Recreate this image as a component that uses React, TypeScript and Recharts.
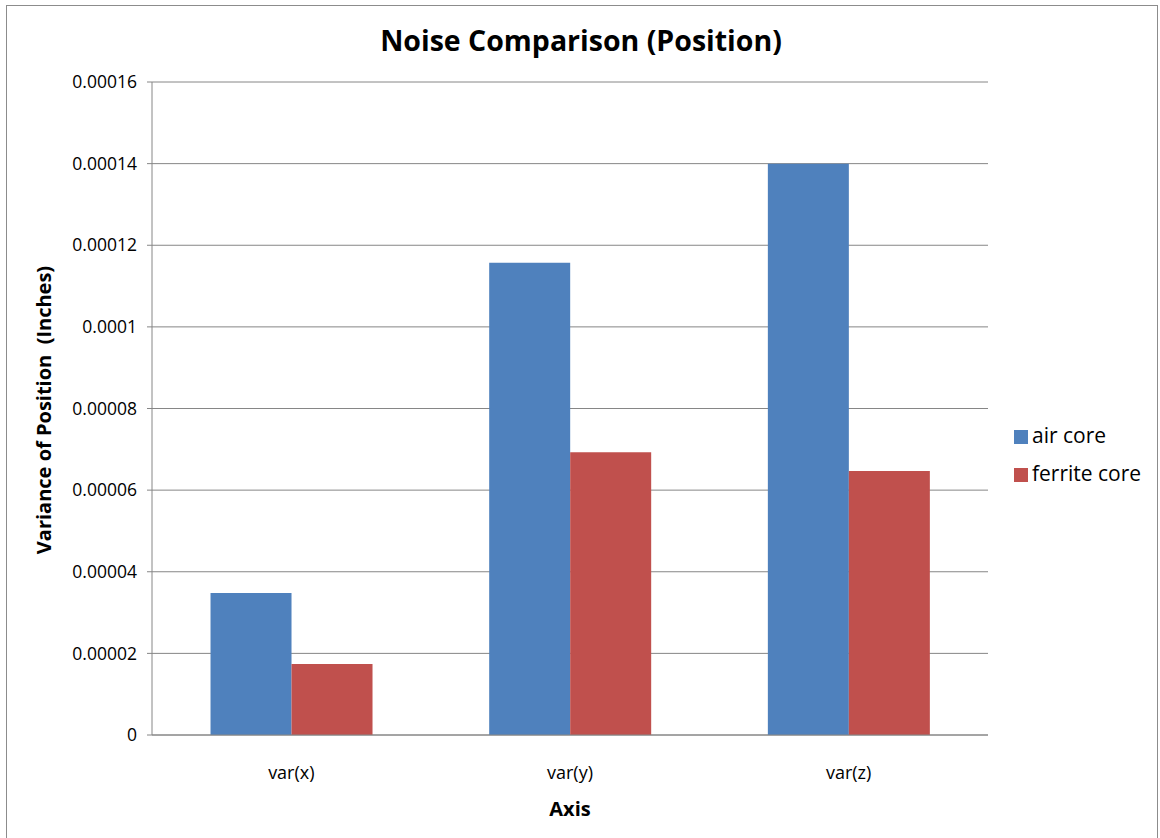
import React from 'react';
import { BarChart, Bar, XAxis, YAxis, CartesianGrid, Legend } from 'recharts';

const categories = ['var(x)', 'var(y)', 'var(z)'];
const airCore = [0.0000348, 0.0001157, 0.00014];
const ferriteCore = [0.0000174, 0.0000693, 0.0000647];
const yTicks = [0, 0.00002, 0.00004, 0.00006, 0.00008, 0.0001, 0.00012, 0.00014, 0.00016];
const yTickLabels = ['0', '0.00002', '0.00004', '0.00006', '0.00008', '0.0001', '0.00012', '0.00014', '0.00016'];

const data = categories.map((name, i) => ({ name, air: airCore[i], ferrite: ferriteCore[i] }));

const FONT = '"Open Sans", sans-serif';
const GRID = '#868686';

const App: React.FC = () => {
  return (
    <div style={{ position: 'absolute', left: 0, top: 0, width: 1160, height: 838, overflow: 'hidden', background: '#fff', fontFamily: FONT }}>
      <div style={{ position: 'absolute', left: 6, top: 5, width: 1150, height: 860, border: '1px solid #8c8c8c' }} />

      <div style={{ position: 'absolute', left: 581, top: 40, transform: 'translate(-50%, -50%)', whiteSpace: 'nowrap', fontSize: 28.5, fontWeight: 700, color: '#000' }}>
        Noise Comparison (Position)
      </div>

      <BarChart
        width={1160}
        height={838}
        data={data}
        margin={{ top: 82, right: 27, bottom: 73, left: 0 }}
        barCategoryGap="21%"
        barGap={0}
        style={{ position: 'absolute', left: 0, top: 0 }}
      >
        <CartesianGrid vertical={false} stroke={GRID} strokeWidth={1} />
        <XAxis
          dataKey="name"
          height={30}
          tickLine={false}
          axisLine={{ stroke: GRID }}
          tickMargin={25}
          tick={{ fill: '#000', fontSize: 18, fontFamily: FONT }}
        />
        <YAxis
          width={152}
          domain={[0, 0.00016]}
          ticks={yTicks}
          interval={0}
          tickFormatter={(v: number) => yTickLabels[yTicks.indexOf(v)] ?? String(v)}
          axisLine={{ stroke: GRID }}
          tickLine={{ stroke: GRID }}
          tickSize={5}
          tickMargin={10}
          tick={{ fill: '#000', fontSize: 17.5, fontFamily: FONT }}
        />
        <Legend
          layout="vertical"
          align="right"
          verticalAlign="top"
          iconType="square"
          iconSize={14}
          wrapperStyle={{ left: 1014, top: 416, width: 145, fontSize: 21, fontFamily: FONT, lineHeight: '38px' }}
          formatter={(value: string) => <span style={{ color: '#000' }}>{value}</span>}
        />
        <Bar dataKey="air" name="air core" fill="#4F81BD" isAnimationActive={false} />
        <Bar dataKey="ferrite" name="ferrite core" fill="#C0504D" isAnimationActive={false} />
      </BarChart>

      <div
        style={{
          position: 'absolute',
          left: 43,
          top: 410,
          transform: 'translate(-50%, -50%) rotate(-90deg)',
          whiteSpace: 'pre',
          fontSize: 20,
          fontWeight: 700,
          color: '#000',
        }}
      >
        {'Variance of Position  (Inches)'}
      </div>

      <div style={{ position: 'absolute', left: 570, top: 808, transform: 'translate(-50%, -50%)', fontSize: 20, fontWeight: 700, color: '#000' }}>
        Axis
      </div>
    </div>
  );
};

export default App;
